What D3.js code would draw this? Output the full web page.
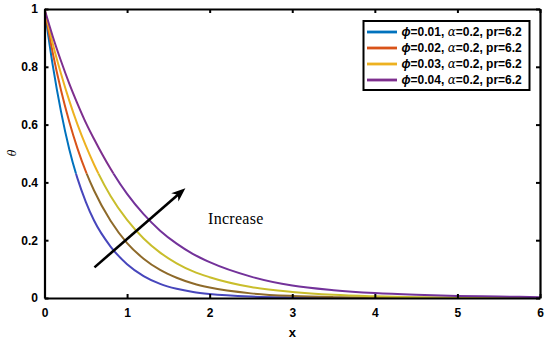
<!DOCTYPE html>
<html><head><meta charset="utf-8">
<script src="https://cdn.jsdelivr.net/npm/d3@7"></script>
<style>body{margin:0;background:#fff}svg{display:block}</style>
</head><body><svg id="c" width="550" height="340"></svg>
<script>
// ---- data ----
const xValues = [0,0.1,0.2,0.3,0.4,0.5,0.6,0.8,1.0,1.2,1.4,1.6,1.8,2.0,2.5,3,3.5,4,4.5,5,5.5,6];
const theta001 = [1,0.805,0.645,0.515,0.413,0.333,0.268,0.178,0.117,0.076,0.049,0.032,0.021,0.014,0.005,0.002,0.001,0.0005,0.0002,0.0001,0,0];
const theta002 = [1,0.848,0.719,0.61,0.517,0.438,0.372,0.267,0.19,0.136,0.097,0.07,0.05,0.036,0.016,0.007,0.003,0.0014,0.0006,0.0003,0.0001,0];
const theta003 = [1,0.88,0.776,0.683,0.6,0.527,0.462,0.353,0.27,0.206,0.157,0.12,0.092,0.072,0.038,0.021,0.011,0.006,0.003,0.0015,0.0008,0.0004];
const theta004 = [1,0.905,0.82,0.742,0.672,0.607,0.55,0.447,0.36,0.29,0.233,0.188,0.152,0.124,0.074,0.043,0.027,0.017,0.011,0.007,0.005,0.003];
const phiValues = ["0.01","0.02","0.03","0.04"];
const alphaValue = "0.2";
const prValue = "6.2";
const xTicks = [0,1,2,3,4,5,6];
const yTicks = [0,0.2,0.4,0.6,0.8,1];
const yTickLabels = ["0","0.2","0.4","0.6","0.8","1"];
const arrowFrom = [0.605,0.106];
const arrowTo = [1.706,0.38];
const annotPos = [1.98,0.256];
const annotText = "Increase";
const colorSplit = 0.43;

// ---- styles ----
const upperColors = ["#0072BD","#D95319","#EDB120","#7E2F8E"];
const lowerColors = ["#4746BC","#8E6A2A","#C9BE2C","#73329A"];
const series = [theta001,theta002,theta003,theta004];

const svg = d3.select("#c");
const L=44.5, R=540, T=9, B=298;
const x = d3.scaleLinear().domain([0,6]).range([L,R]);
const y = d3.scaleLinear().domain([0,1]).range([B,T]);

const defs = svg.append("defs");
defs.append("clipPath").attr("id","cu").append("rect")
  .attr("x",L).attr("y",T-5).attr("width",R-L).attr("height",y(colorSplit)-(T-5));
defs.append("clipPath").attr("id","cl").append("rect")
  .attr("x",L).attr("y",y(colorSplit)).attr("width",R-L).attr("height",B-y(colorSplit)+2);

const line = d3.line().x((d,i)=>x(xValues[i])).y(d=>y(d)).curve(d3.curveMonotoneX);

series.forEach((s,k)=>{
  svg.append("path").attr("d",line(s)).attr("fill","none")
    .attr("stroke",upperColors[k]).attr("stroke-width",2).attr("clip-path","url(#cu)");
});
series.forEach((s,k)=>{
  svg.append("path").attr("d",line(s)).attr("fill","none")
    .attr("stroke",lowerColors[k]).attr("stroke-width",2).attr("clip-path","url(#cl)");
});

// axes
const font = "Liberation Sans, Arial, sans-serif";
const xb = svg.append("g").attr("transform",`translate(0,${B})`)
  .call(d3.axisBottom(x).tickValues(xTicks).tickSizeInner(-4).tickSizeOuter(0).tickPadding(10).tickFormat(d3.format("d")));
const yl = svg.append("g").attr("transform",`translate(${L},0)`)
  .call(d3.axisLeft(y).tickValues(yTicks).tickSizeInner(-4).tickSizeOuter(0).tickPadding(6.5).tickFormat((d,i)=>yTickLabels[i]));
const xt = svg.append("g").attr("transform",`translate(0,${T})`)
  .call(d3.axisTop(x).tickValues(xTicks).tickSizeInner(-4).tickSizeOuter(0).tickFormat(""));
const yr = svg.append("g").attr("transform",`translate(${R},0)`)
  .call(d3.axisRight(y).tickValues(yTicks).tickSizeInner(-4).tickSizeOuter(0).tickFormat(""));
[xb,yl,xt,yr].forEach(g=>{
  g.select(".domain").attr("stroke","#000").attr("stroke-width",2.2);
  g.selectAll(".tick line").attr("stroke","#000").attr("stroke-width",2);
  g.selectAll("text").attr("font-family",font).attr("font-weight","bold").attr("font-size",12).attr("fill","#000");
});

// axis labels
svg.append("text").attr("x",(L+R)/2).attr("y",337).attr("text-anchor","middle")
  .attr("font-family",font).attr("font-weight","bold").attr("font-size",13).text("x");
svg.append("text").attr("transform","translate(16,153) rotate(-90)").attr("text-anchor","middle")
  .attr("font-family","DejaVu Serif, serif").attr("font-style","italic").attr("font-size",11).text("θ");

// arrow
const x0=x(arrowFrom[0]), y0=y(arrowFrom[1]), x1=x(arrowTo[0]), y1=y(arrowTo[1]);
const ang=Math.atan2(y1-y0,x1-x0);
const hl=14, hw=5.5, back=10;
const ux=Math.cos(ang), uy=Math.sin(ang), px=-uy, py=ux;
const bx=x1-ux*hl, by=y1-uy*hl;
svg.append("line").attr("x1",x0).attr("y1",y0).attr("x2",x1-ux*8).attr("y2",y1-uy*8)
  .attr("stroke","#000").attr("stroke-width",2.6);
svg.append("path").attr("d",`M${x1},${y1}L${bx+px*hw},${by+py*hw}L${x1-ux*back},${y1-uy*back}L${bx-px*hw},${by-py*hw}Z`)
  .attr("fill","#000");
svg.append("text").attr("x",x(annotPos[0])).attr("y",y(annotPos[1]))
  .attr("font-family","Liberation Serif, Times New Roman, serif").attr("font-size",16)
  .attr("letter-spacing",0.3).text(annotText);

// legend
const lg = svg.append("g");
lg.append("rect").attr("x",363.5).attr("y",21).attr("width",166).attr("height",69)
  .attr("fill","#fff").attr("stroke","#000").attr("stroke-width",2);
phiValues.forEach((p,i)=>{
  const yy = 32 + i*16;
  lg.append("line").attr("x1",367).attr("x2",397).attr("y1",yy).attr("y2",yy)
    .attr("stroke",upperColors[i]).attr("stroke-width",2.8);
  const t = lg.append("text").attr("x",401.5).attr("y",yy+4.3).attr("font-family",font)
    .attr("font-weight","bold").attr("font-size",12);
  t.append("tspan").attr("font-style","italic").text("ϕ");
  t.append("tspan").text(`=${p}, `);
  t.append("tspan").attr("font-style","italic").attr("font-family","DejaVu Serif, serif").attr("font-weight","normal").text("α");
  t.append("tspan").text(`=${alphaValue}, pr=${prValue}`);
});
</script></body></html>
